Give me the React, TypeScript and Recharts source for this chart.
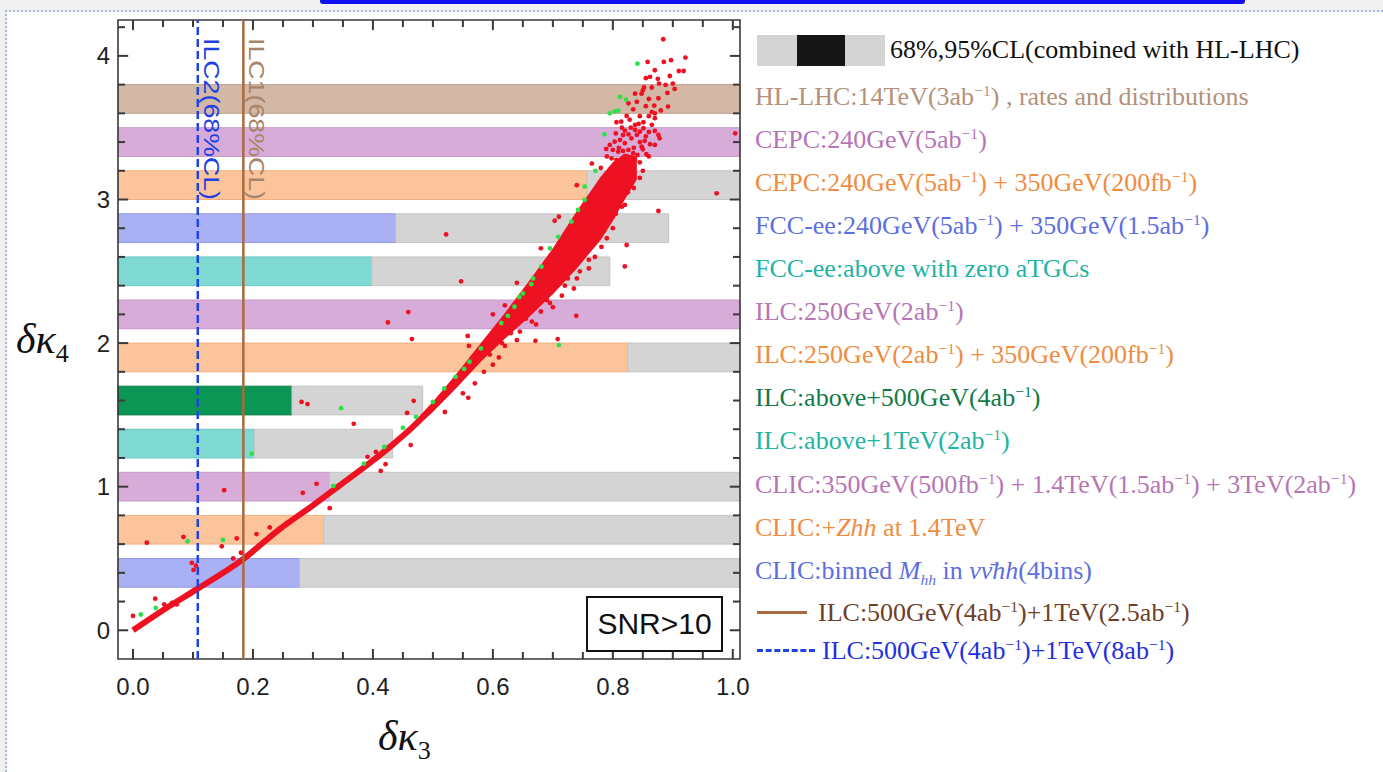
import React from 'react';
import { ComposedChart, XAxis, YAxis, Scatter, Line, Area, ReferenceArea, ReferenceLine } from 'recharts';

const xDomain = [-0.025, 1.012];
const yDomain = [-0.2, 4.25];
const xTicks = [0, 0.05, 0.1, 0.15, 0.2, 0.25, 0.3, 0.35, 0.4, 0.45, 0.5, 0.55, 0.6, 0.65, 0.7, 0.75, 0.8, 0.85, 0.9, 0.95, 1];
const yTicks = [0, 0.2, 0.4, 0.6, 0.8, 1, 1.2, 1.4, 1.6, 1.8, 2, 2.2, 2.4, 2.6, 2.8, 3, 3.2, 3.4, 3.6, 3.8, 4, 4.2];

// horizontal bands, top to bottom: centre, fill, end of own (coloured) bound, end of combined (grey) bound
const bandCenters = [3.7, 3.4, 3.1, 2.8, 2.5, 2.2, 1.9, 1.6, 1.3, 1.0, 0.7, 0.4];
const bandHalf = 0.1;
const bandColors = ['#d4b8a6', '#d8acd8', '#fcc49a', '#aab0f4', '#7fd9d3', '#d8acd8', '#fcc49a', '#0c9656', '#7fd9d3', '#d8acd8', '#fcc49a', '#aab0f4'];
const bandEdges = ['#c0a290', '#c898c8', '#f0b080', '#9498e0', '#68c6c0', '#c898c8', '#f0b080', '#0a8048', '#68c6c0', '#c898c8', '#f0b080', '#9498e0'];
const ownEnd = [1.012, 1.012, 0.757, 0.438, 0.398, 1.012, 0.825, 0.265, 0.202, 0.328, 0.318, 0.278];
const greyEnd = [1.012, 1.012, 1.012, 0.893, 0.795, 1.012, 1.012, 0.483, 0.433, 1.012, 1.012, 1.012];

const ilc1X = 0.184;
const ilc2X = 0.108;

// scan points: thin lower branch
const curve = [
  [0, 0], [0.05, 0.14], [0.108, 0.29], [0.182, 0.49], [0.243, 0.7], [0.3, 0.87], [0.345, 1.01],
  [0.39, 1.15], [0.435, 1.3], [0.47, 1.43], [0.5, 1.56], [0.54, 1.75], [0.58, 1.95], [0.62, 2.15],
  [0.66, 2.36], [0.7, 2.58], [0.74, 2.8], [0.78, 3.05], [0.81, 3.27],
];
// dense part of the cloud (vertical extent at each x)
const bandX = [0.46, 0.5, 0.54, 0.58, 0.62, 0.66, 0.7, 0.74, 0.78, 0.8, 0.82, 0.84];
const bandLo = [1.37, 1.52, 1.69, 1.87, 2.03, 2.18, 2.34, 2.52, 2.72, 2.85, 3.0, 3.14];
const bandHi = [1.41, 1.59, 1.79, 2.0, 2.21, 2.43, 2.66, 2.92, 3.16, 3.26, 3.32, 3.3];

const redPoints = [
  [0.0, 0.1], [0.037, 0.22], [0.052, 0.18], [0.065, 0.19], [0.073, 0.18], [0.023, 0.61], [0.084, 0.65],
  [0.098, 0.47], [0.101, 0.42], [0.105, 0.45], [0.152, 0.976], [0.148, 0.585], [0.173, 0.64], [0.167, 0.5],
  [0.18, 0.54], [0.206, 0.67], [0.228, 0.716], [0.283, 0.957], [0.306, 1.02], [0.328, 0.85],
  [0.281, 1.59], [0.291, 1.575], [0.368, 1.438], [0.391, 1.208], [0.405, 1.242], [0.413, 1.11], [0.421, 1.157],
  [0.457, 1.514], [0.463, 1.29], [0.468, 1.598], [0.559, 1.619], [0.425, 2.144], [0.459, 2.216], [0.465, 2.028],
  [0.558, 2.05], [0.547, 2.43], [0.522, 2.757], [0.62, 2.263], [0.671, 2.016], [0.708, 2.028], [0.739, 2.19],
  [0.703, 2.852], [0.82, 2.534], [0.823, 2.683], [0.876, 2.92], [0.973, 3.043], [1.004, 3.461],
  [0.795, 3.066], [0.82, 2.962], [0.8, 2.8], [0.781, 2.67], [0.76, 2.52], [0.735, 2.38], [0.7, 2.25],
  [0.672, 2.13], [0.64, 2.02], [0.61, 1.9], [0.585, 1.8], [0.55, 1.65], [0.52, 1.52],
  [0.56, 1.98], [0.6, 2.2], [0.64, 2.42], [0.68, 2.66], [0.71, 2.88], [0.74, 3.1], [0.765, 3.25],
  [0.63, 2.07], [0.655, 2.17], [0.68, 2.22], [0.69, 2.3], [0.715, 2.33], [0.725, 2.45], [0.745, 2.5],
  [0.75, 2.6], [0.77, 2.6], [0.775, 2.75], [0.79, 2.73], [0.805, 2.9], [0.81, 3.0], [0.825, 3.05],
  [0.83, 3.12], [0.6, 1.85], [0.57, 1.72], [0.595, 1.92], [0.62, 1.98],
  [0.615, 2.0], [0.645, 2.08], [0.665, 2.15], [0.695, 2.28], [0.72, 2.4], [0.74, 2.45], [0.76, 2.58],
  [0.785, 2.78], [0.8, 2.88], [0.815, 2.95], [0.835, 3.08], [0.845, 3.15],
  [0.884, 4.116], [0.858, 3.958], [0.885, 3.958], [0.897, 3.97], [0.921, 3.988], [0.91, 3.895], [0.918, 3.895],
  [0.855, 3.845], [0.862, 3.854], [0.852, 3.78], [0.877, 3.807], [0.888, 3.798], [0.9, 3.807], [0.891, 3.742],
  [0.903, 3.77], [0.837, 3.737], [0.848, 3.737], [0.826, 3.67], [0.876, 3.705], [0.869, 3.654], [0.892, 3.647],
  [0.834, 3.628], [0.865, 3.608], [0.87, 3.566], [0.823, 3.582], [0.814, 3.542], [0.806, 3.538], [0.828, 3.556],
  [0.837, 3.519], [0.843, 3.526], [0.851, 3.538], [0.837, 3.484], [0.845, 3.472], [0.851, 3.496], [0.87, 3.477],
  [0.876, 3.449], [0.878, 3.426], [0.817, 3.449], [0.826, 3.454], [0.831, 3.426], [0.803, 3.403], [0.812, 3.415],
  [0.82, 3.392], [0.789, 3.352], [0.853, 3.408], [0.862, 3.385], [0.848, 3.368], [0.8, 3.345], [0.809, 3.333],
  [0.817, 3.338], [0.826, 3.345], [0.834, 3.322], [0.841, 3.31], [0.856, 3.315], [0.798, 3.287], [0.806, 3.275],
  [0.814, 3.264], [0.826, 3.252], [0.837, 3.275], [0.845, 3.259], [0.828, 3.2], [0.78, 3.22], [0.79, 3.18],
  [0.8, 3.15], [0.815, 3.12], [0.835, 3.16], [0.85, 3.2],
  [0.79, 3.3], [0.795, 3.38], [0.805, 3.46], [0.815, 3.5], [0.82, 3.48], [0.83, 3.5], [0.84, 3.45],
  [0.845, 3.4], [0.855, 3.44], [0.86, 3.47], [0.865, 3.52], [0.81, 3.36], [0.82, 3.3], [0.835, 3.36],
  [0.85, 3.35], [0.86, 3.3], [0.87, 3.38], [0.87, 3.6], [0.88, 3.62], [0.86, 3.58], [0.845, 3.58],
  [0.855, 3.65], [0.84, 3.68], [0.86, 3.7], [0.85, 3.76], [0.865, 3.78], [0.875, 3.84], [0.87, 3.9], [0.895, 3.86],
];
const greenPoints = [
  [0.013, 0.11], [0.038, 0.155], [0.091, 0.62], [0.15, 0.63], [0.198, 1.23], [0.334, 1.005], [0.347, 1.547],
  [0.385, 1.16], [0.419, 1.277], [0.45, 1.41], [0.472, 1.486], [0.5, 1.59], [0.519, 1.684], [0.538, 1.765],
  [0.552, 1.82], [0.561, 1.87], [0.58, 1.963], [0.71, 1.986], [0.614, 2.14], [0.625, 2.19], [0.636, 2.253],
  [0.644, 2.32], [0.65, 2.346], [0.664, 2.41], [0.667, 2.45], [0.681, 2.532], [0.695, 2.66], [0.709, 2.74],
  [0.731, 2.846], [0.742, 2.927], [0.753, 2.997], [0.753, 3.09], [0.771, 3.2], [0.786, 3.454], [0.795, 3.6],
  [0.803, 3.614], [0.809, 3.619], [0.812, 3.714], [0.822, 3.695], [0.841, 3.946],
];

const sans = '"Liberation Sans", Arial, sans-serif';
const serif = '"Liberation Serif", "Times New Roman", serif';
const frame = '#3a3a3a';

const inv = <sup style={{ fontSize: '0.6em', verticalAlign: '0.6em', lineHeight: 0 }}>−1</sup>;

const legendRows = [
  { y: 97, color: '#b3917a', text: <>HL-LHC:14TeV(3ab{inv}) , rates and distributions</> },
  { y: 140, color: '#b676b6', text: <>CEPC:240GeV(5ab{inv})</> },
  { y: 183, color: '#f08c40', text: <>CEPC:240GeV(5ab{inv}) + 350GeV(200fb{inv})</> },
  { y: 226, color: '#5d6fe0', text: <>FCC-ee:240GeV(5ab{inv}) + 350GeV(1.5ab{inv})</> },
  { y: 269, color: '#1eb4a2', text: <>FCC-ee:above with zero aTGCs</> },
  { y: 312, color: '#b676b6', text: <>ILC:250GeV(2ab{inv})</> },
  { y: 355, color: '#f08c40', text: <>ILC:250GeV(2ab{inv}) + 350GeV(200fb{inv})</> },
  { y: 398, color: '#127a48', text: <>ILC:above+500GeV(4ab{inv})</> },
  { y: 441, color: '#1eb4a2', text: <>ILC:above+1TeV(2ab{inv})</> },
  { y: 485, color: '#b676b6', text: <>CLIC:350GeV(500fb{inv}) + 1.4TeV(1.5ab{inv}) + 3TeV(2ab{inv})</> },
  { y: 528, color: '#f08c40', text: <>CLIC:+<i>Zhh</i> at 1.4TeV</> },
  { y: 571, color: '#5d6fe0', text: <>CLIC:binned <i>M</i><sub style={{ fontSize: '0.6em', lineHeight: 0 }}><i>hh</i></sub> in <i>νν̄hh</i>(4bins)</> },
];

const isMajorX = (v: number) => Math.abs(v * 5 - Math.round(v * 5)) < 1e-6;
const isMajorY = (v: number) => Math.abs(v - Math.round(v)) < 1e-6;

// inward tick lengths in data units (about 10/7 px)
const xTickLen = (v: number) => (isMajorX(v) ? 0.07 : 0.049);
const yTickLen = (v: number) => (isMajorY(v) ? 0.017 : 0.0117);

const BottomLabel = (p: any) =>
  isMajorX(p.payload.value) ? (
    <text x={p.x} y={p.y + 36} textAnchor="middle" fontSize={24} fontFamily={sans} fill="#222">
      {p.payload.value.toFixed(1)}
    </text>
  ) : <g />;
const LeftLabel = (p: any) =>
  isMajorY(p.payload.value) ? (
    <text x={p.x - 8} y={p.y + 8.5} textAnchor="end" fontSize={24} fontFamily={sans} fill="#222">
      {Math.round(p.payload.value)}
    </text>
  ) : <g />;

const dot = (fill: string) => (p: any) => <circle cx={p.cx} cy={p.cy} r={2.4} fill={fill} />;

const vLabel = (text: string, color: string) => (p: any) => (
  <text
    transform={`translate(${p.viewBox.x + 6}, 38) rotate(90)`}
    fontSize={22}
    fontFamily={sans}
    fill={color}
    textLength={162}
    lengthAdjust="spacingAndGlyphs"
  >
    {text}
  </text>
);

export default function App() {
  const bandTable = bandX.map((x, i) => ({ x, lo: bandLo[i], hi: bandHi[i] }));
  const curveData = curve.map(([x, y]) => ({ x, y }));
  const red = redPoints.map(([x, y]) => ({ x, y }));
  const green = greenPoints.map(([x, y]) => ({ x, y }));
  const tickStyle = { stroke: frame, strokeWidth: 2, ifOverflow: 'visible' as const };

  return (
    <div style={{ position: 'absolute', left: 0, top: 0, width: 1383, height: 772, background: '#fff', overflow: 'hidden' }}>
      <div style={{ position: 'absolute', left: 0, top: 0, width: 1383, height: 10, background: '#f1f1f1', borderBottom: '2px dotted #a8b8d8' }} />
      <div style={{ position: 'absolute', left: 0, top: 10, width: 5, height: 762, background: '#f1f1f1', borderRight: '2px dotted #a8b8d8' }} />
      <div style={{ position: 'absolute', left: 320, top: 0, width: 925, height: 4, background: '#1010ee', borderRadius: '0 0 3px 3px' }} />

      <ComposedChart width={1383} height={772} data={bandTable} margin={{ top: 20, right: 643, bottom: 0, left: 0 }}>
        <XAxis dataKey="x" type="number" domain={xDomain} allowDataOverflow ticks={xTicks} interval={0}
          tickSize={0} tickMargin={0} tickLine={false} tick={(p: any) => <BottomLabel {...p} />} height={113} axisLine={false} />
        <YAxis dataKey="y" type="number" domain={yDomain} allowDataOverflow ticks={yTicks} interval={0}
          tickSize={0} tickMargin={0} tickLine={false} tick={(p: any) => <LeftLabel {...p} />} width={118} axisLine={false} />

        {bandCenters.map((c, i) => (
          <ReferenceArea key={`own-${i}`} x1={xDomain[0]} x2={ownEnd[i]} y1={c - bandHalf} y2={c + bandHalf}
            fill={bandColors[i]} fillOpacity={1} stroke={bandEdges[i]} strokeWidth={1} />
        ))}
        {bandCenters.map((c, i) =>
          greyEnd[i] > ownEnd[i] ? (
            <ReferenceArea key={`grey-${i}`} x1={ownEnd[i]} x2={greyEnd[i]} y1={c - bandHalf} y2={c + bandHalf}
              fill="#d4d4d4" fillOpacity={1} stroke="#c4c4c4" strokeWidth={1} />
          ) : null
        )}

        <Area dataKey={(d: any) => [d.lo, d.hi]} type="linear" stroke="none" fill="#ee1122" fillOpacity={1} isAnimationActive={false} />
        <Line data={curveData} dataKey="y" type="monotone" stroke="#ee1122" strokeWidth={6} dot={false} isAnimationActive={false} />
        <Scatter data={red} dataKey="y" fill="#ee1122" shape={dot('#ee1122')} isAnimationActive={false} />
        <Scatter data={green} dataKey="y" fill="#2ee04a" shape={dot('#2ee04a')} isAnimationActive={false} />

        <ReferenceLine x={ilc2X} stroke="#1f44e6" strokeWidth={2.5} strokeDasharray="8 4" label={vLabel('ILC2(68%CL)', '#2040e0')} />
        <ReferenceLine x={ilc1X} stroke="#a86a40" strokeWidth={2.5} label={vLabel('ILC1(68%CL)', '#a88468')} />

        {/* frame with inward ticks on all four sides */}
        <ReferenceArea x1={xDomain[0]} x2={xDomain[1]} y1={yDomain[0]} y2={yDomain[1]} fill="none" stroke={frame} strokeWidth={1.6} />
        {xTicks.map((v) => (
          <ReferenceLine key={`xb-${v}`} segment={[{ x: v, y: yDomain[0] }, { x: v, y: yDomain[0] + xTickLen(v) }]} {...tickStyle} />
        ))}
        {xTicks.map((v) => (
          <ReferenceLine key={`xt-${v}`} segment={[{ x: v, y: yDomain[1] - xTickLen(v) }, { x: v, y: yDomain[1] }]} {...tickStyle} />
        ))}
        {yTicks.map((v) => (
          <ReferenceLine key={`yl-${v}`} segment={[{ x: xDomain[0], y: v }, { x: xDomain[0] + yTickLen(v), y: v }]} {...tickStyle} />
        ))}
        {yTicks.map((v) => (
          <ReferenceLine key={`yr-${v}`} segment={[{ x: xDomain[1] - yTickLen(v), y: v }, { x: xDomain[1], y: v }]} {...tickStyle} />
        ))}
      </ComposedChart>

      {/* SNR box */}
      <div style={{ position: 'absolute', left: 586, top: 596, width: 133, height: 52, border: '2px solid #111', background: '#fff',
        fontFamily: sans, fontSize: 30, lineHeight: '52px', textAlign: 'center', color: '#111' }}>SNR&gt;10</div>

      {/* axis titles */}
      <div style={{ position: 'absolute', left: 16, top: 315, fontFamily: serif, fontSize: 42, fontStyle: 'italic', color: '#111', whiteSpace: 'nowrap' }}>
        δκ<sub style={{ fontSize: '0.62em', fontStyle: 'normal' }}>4</sub>
      </div>
      <div style={{ position: 'absolute', left: 378, top: 712, fontFamily: serif, fontSize: 42, fontStyle: 'italic', color: '#111', whiteSpace: 'nowrap' }}>
        δκ<sub style={{ fontSize: '0.62em', fontStyle: 'normal' }}>3</sub>
      </div>

      {/* legend */}
      <div style={{ position: 'absolute', left: 757, top: 35, width: 128, height: 31, background: '#d4d4d4' }} />
      <div style={{ position: 'absolute', left: 797, top: 35, width: 48, height: 31, background: '#161616' }} />
      <div style={{ position: 'absolute', left: 890, top: 34, fontFamily: serif, fontSize: 26, lineHeight: '32px', color: '#111', whiteSpace: 'nowrap' }}>
        68%,95%CL(combined with HL-LHC)
      </div>
      {legendRows.map((r, i) => (
        <div key={i} style={{ position: 'absolute', left: 755, top: r.y - 16, fontFamily: serif, fontSize: 26, lineHeight: '32px', color: r.color, whiteSpace: 'nowrap' }}>
          {r.text}
        </div>
      ))}
      <div style={{ position: 'absolute', left: 757, top: 611, width: 50, height: 3, background: '#a86a40' }} />
      <div style={{ position: 'absolute', left: 818, top: 597, fontFamily: serif, fontSize: 26, lineHeight: '32px', color: '#6e4028', whiteSpace: 'nowrap' }}>
        ILC:500GeV(4ab{inv})+1TeV(2.5ab{inv})
      </div>
      <div style={{ position: 'absolute', left: 757, top: 649, width: 58, height: 0, borderTop: '3px dashed #1f44e6' }} />
      <div style={{ position: 'absolute', left: 822, top: 635, fontFamily: serif, fontSize: 26, lineHeight: '32px', color: '#1f30e0', whiteSpace: 'nowrap' }}>
        ILC:500GeV(4ab{inv})+1TeV(8ab{inv})
      </div>
    </div>
  );
}
